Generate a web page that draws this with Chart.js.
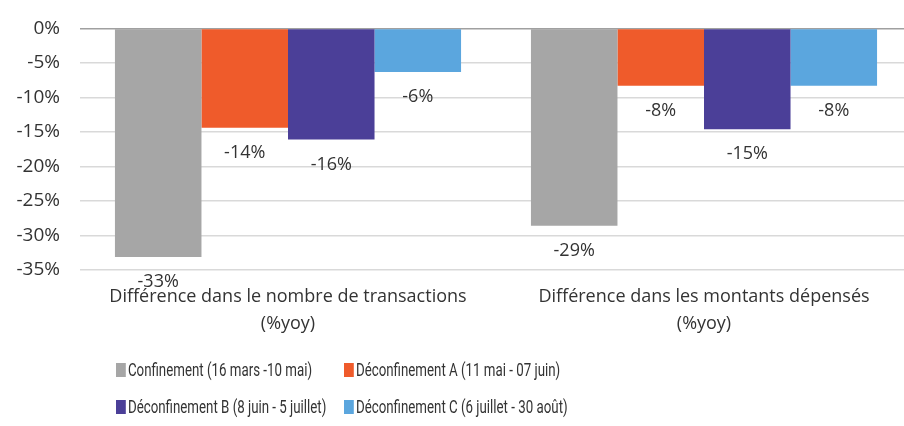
<!DOCTYPE html>
<html>
<head>
<meta charset="utf-8">
<script src="https://cdn.jsdelivr.net/npm/chart.js@4"></script>
<style>
  body { margin: 0; background: #fff; }
  #wrap { position: relative; width: 904px; height: 426px; overflow: hidden; }
  #chart { position: absolute; left: 0; top: -3px; }
  .legend { position: absolute; left: 0; top: 0; width: 904px; height: 426px; pointer-events: none;
    font-family: 'Roboto', sans-serif; font-size: 19px; color: #333; }
  .item { position: absolute; display: flex; align-items: center; white-space: nowrap;
    transform: scaleX(0.7); transform-origin: left center; }
  .box { width: 14px; height: 14px; margin-right: 3px; }
</style>
</head>
<body>
<div id="wrap">
  <canvas id="chart" width="912" height="345"></canvas>
  <div class="legend" id="legend"></div>
</div>
<script>
// Categories and series
const categories = [
  ['Différence dans le nombre de transactions', '(%yoy)'],
  ['Différence dans les montants dépensés', '(%yoy)']
];
const seriesNames = [
  'Confinement (16 mars -10 mai)',
  'Déconfinement A (11 mai - 07 juin)',
  'Déconfinement B (8 juin - 5 juillet)',
  'Déconfinement C (6 juillet - 30 août)'
];
const confinement = [-33.1, -28.6];
const deconfA = [-14.4, -8.3];
const deconfB = [-16.1, -14.6];
const deconfC = [-6.3, -8.3];
const seriesColors = ['#a6a6a6', '#ef5b2b', '#4b3f98', '#5ba6de'];
const yTicks = [0, -5, -10, -15, -20, -25, -30, -35];

const FONT = "'Open Sans', sans-serif";

// Draws the value label under each bar
const barLabels = {
  id: 'barLabels',
  afterDatasetsDraw(chart) {
    const ctx = chart.ctx;
    ctx.save();
    ctx.font = '18px ' + FONT;
    ctx.fillStyle = '#333';
    ctx.textAlign = 'center';
    ctx.textBaseline = 'middle';
    chart.data.datasets.forEach((ds, i) => {
      chart.getDatasetMeta(i).data.forEach((bar, j) => {
        ctx.fillText(Math.round(ds.data[j]) + '%', bar.x, bar.y + 25);
      });
    });
    ctx.restore();
  }
};

const datasets = [confinement, deconfA, deconfB, deconfC].map((d, i) => ({
  label: seriesNames[i],
  data: d,
  backgroundColor: seriesColors[i],
  categoryPercentage: 0.832,
  barPercentage: 1
}));

new Chart(document.getElementById('chart'), {
  type: 'bar',
  data: { labels: categories, datasets },
  options: {
    responsive: false,
    animation: false,
    layout: { padding: { top: 12, right: 0, left: 0, bottom: 0 } },
    plugins: { legend: { display: false }, tooltip: { enabled: false } },
    scales: {
      x: {
        grid: { display: false },
        border: { display: false },
        ticks: { color: '#333', font: { family: FONT, size: 18, lineHeight: 1.5 }, padding: 5, maxRotation: 0 }
      },
      y: {
        min: -35, max: 0,
        afterFit(scale) { scale.width = 80; },
        afterBuildTicks(scale) { scale.ticks = yTicks.map(v => ({ value: v })); },
        grid: {
          color: ctx => ctx.tick && ctx.tick.value === 0 ? '#a0a0a0' : '#d9d9d9',
          lineWidth: 1.5,
          drawTicks: false
        },
        border: { display: false },
        ticks: {
          color: '#333', font: { family: FONT, size: 19 }, padding: 20,
          callback: v => v + '%'
        }
      }
    }
  },
  plugins: [barLabels]
});

// Legend laid out in two columns under the chart
const legendPos = [[116, 370], [344, 370], [116, 407], [344, 407]];
const legend = document.getElementById('legend');
seriesNames.forEach((name, i) => {
  const el = document.createElement('div');
  el.className = 'item';
  el.style.left = legendPos[i][0] + 'px';
  el.style.top = (legendPos[i][1] - 12) + 'px';
  el.innerHTML = '<span class="box" style="background:' + seriesColors[i] + '"></span>' + name;
  legend.appendChild(el);
});
</script>
</body>
</html>
